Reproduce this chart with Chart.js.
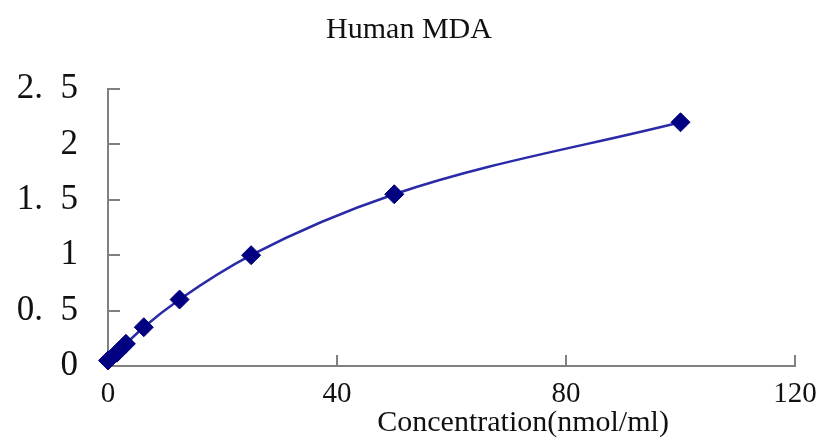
<!DOCTYPE html>
<html>
<head>
<meta charset="utf-8">
<style>
  html, body { margin: 0; padding: 0; background: #fff; }
  #wrap { width: 818px; height: 443px; position: relative; }
</style>
<script src="https://cdn.jsdelivr.net/npm/chart.js@4/dist/chart.umd.min.js"></script>
</head>
<body>
<div id="wrap"><canvas id="c" width="818" height="443"></canvas></div>
<script>
// ---- data ----
const chartTitle = "Human MDA";
const xAxisTitle = "Concentration(nmol/ml)";
const concentrations = [0, 1.56, 3.125, 6.25, 12.5, 25, 50, 100];
const odValues = [0.05, 0.12, 0.2, 0.35, 0.6, 1.0, 1.55, 2.2];
const xTicks = [0, 40, 80, 120];
const yTicks = [0, 0.5, 1, 1.5, 2, 2.5];

const SERIF = "'Liberation Serif', 'Times New Roman', serif";
const AXIS_COLOR = "#808080";
const NAVY = "#000080";
const LINE_COLOR = "#2a2aa8";

const points = concentrations.map((c, i) => ({ x: c, y: odValues[i] }));

const decorPlugin = {
  id: "decor",
  beforeDatasetsDraw(chart) {
    const ctx = chart.ctx;
    const xs = chart.scales.x, ys = chart.scales.y;
    ctx.save();
    ctx.strokeStyle = AXIS_COLOR;
    ctx.lineWidth = 2;
    yTicks.forEach(v => {
      if (v === 0) return;
      const py = Math.round(ys.getPixelForValue(v));
      ctx.beginPath();
      ctx.moveTo(xs.left, py);
      ctx.lineTo(xs.left + 12, py);
      ctx.stroke();
    });
    xTicks.forEach(v => {
      if (v === 0) return;
      const px = Math.round(xs.getPixelForValue(v));
      ctx.beginPath();
      ctx.moveTo(px, ys.bottom);
      ctx.lineTo(px, ys.bottom - 11);
      ctx.stroke();
    });
    ctx.restore();
  },
  afterDraw(chart) {
    const ctx = chart.ctx;
    const xs = chart.scales.x;
    ctx.save();
    ctx.fillStyle = "#111";
    ctx.textAlign = "center";
    ctx.textBaseline = "middle";
    ctx.font = "30px " + SERIF;
    ctx.fillText(xAxisTitle, xs.getPixelForValue(72.5), 423);
    ctx.font = "30px " + SERIF;
    ctx.fillText(chartTitle, chart.width / 2, 30);
    ctx.restore();
  }
};

new Chart(document.getElementById("c"), {
  type: "line",
  data: {
    datasets: [{
      data: points,
      borderColor: LINE_COLOR,
      backgroundColor: NAVY,
      borderWidth: 2.5,
      pointStyle: "rectRot",
      pointRadius: 9.5,
      pointHoverRadius: 9.5,
      pointBorderWidth: 1,
      pointBackgroundColor: NAVY,
      pointBorderColor: NAVY,
      cubicInterpolationMode: "monotone",
      clip: false,
      fill: false
    }]
  },
  options: {
    responsive: false,
    animation: false,
    devicePixelRatio: 1,
    layout: { padding: { left: 0, right: 23, top: 89, bottom: 0 } },
    plugins: {
      legend: { display: false },
      tooltip: { enabled: false },
      title: { display: false }
    },
    scales: {
      x: {
        type: "linear",
        min: 0,
        max: 120,
        afterBuildTicks(scale) { scale.ticks = xTicks.map(v => ({ value: v })); },
        afterFit(scale) {
          scale.height = 77;
          scale.paddingLeft = 0;
          scale.paddingRight = 0;
        },
        ticks: {
          color: "#111",
          font: { family: SERIF, size: 29 },
          padding: 11,
          maxRotation: 0
        },
        grid: { display: false, drawTicks: false },
        border: { display: true, color: AXIS_COLOR, width: 2 }
      },
      y: {
        type: "linear",
        min: 0,
        max: 2.5,
        afterBuildTicks(scale) { scale.ticks = yTicks.map(v => ({ value: v })); },
        afterFit(scale) {
          scale.width = 108;
          scale.paddingTop = 0;
          scale.paddingBottom = 0;
        },
        ticks: {
          color: "#111",
          font: { family: SERIF, size: 35 },
          padding: 30,
          callback: v => String(v).replace(".", ".\u2002")
        },
        grid: { display: false, drawTicks: false },
        border: { display: true, color: AXIS_COLOR, width: 2 }
      }
    }
  },
  plugins: [decorPlugin]
});
</script>
</body>
</html>
